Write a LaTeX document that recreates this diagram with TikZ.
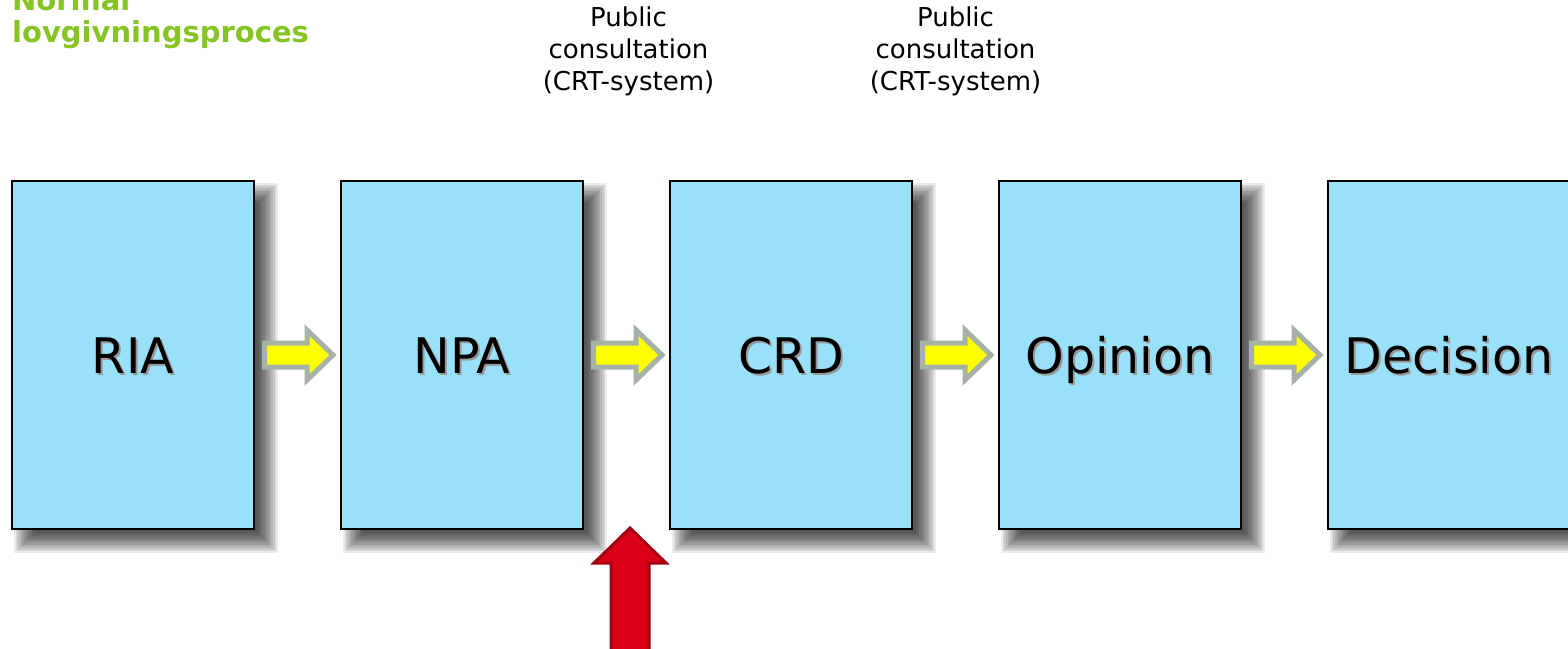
\documentclass[tikz,border=0pt]{standalone}
\usepackage{fontspec}
\setmainfont{DejaVu Sans}
\usetikzlibrary{calc}

\definecolor{boxblue}{RGB}{153,225,248}
\definecolor{titlegreen}{RGB}{134,196,36}
\definecolor{arrowgray}{RGB}{166,178,166}
\definecolor{arrowyellow}{RGB}{255,255,0}
\definecolor{redfill}{RGB}{218,0,24}
\definecolor{rededge}{RGB}{165,0,18}

\tikzset{
  stagebox/.style={draw=black, line width=2pt, fill=boxblue,
    minimum width=242pt, minimum height=348pt, inner sep=0pt},
  stagelabel/.style={font=\fontsize{49}{52}\selectfont, anchor=base, text=black},
  stageshade/.style={font=\fontsize{49}{52}\selectfont, anchor=base, text=black!40},
  consult/.style={font=\fontsize{26}{32}\selectfont, align=center, anchor=north, inner sep=0pt},
  yellowarrow/.style={draw=arrowgray, fill=arrowyellow, line width=5pt, line join=miter},
  redarrow/.style={draw=rededge, fill=redfill, line width=3pt, line join=miter},
}

% soft drop shadow behind a box: stacked translucent rectangles
\newcommand{\softshadow}[1]{%
  \foreach \k in {0,...,12}{%
    \pgfmathsetmacro{\g}{10-\k*20/12}
    \fill[black, opacity=0.08]
      ($(#1.north west)+(13pt+\g pt,-13pt-\g pt)$) rectangle
      ($(#1.south east)+(13pt-\g pt,-13pt+\g pt)$);
  }%
}

% block arrow from the right side of one box to the left side of the next
\newcommand{\blockarrow}[2]{%
  \path let \p1=($(#1.east)+(9.5pt,0)$), \p2=($(#2.west)+(-7pt,0)$) in
    [yellowarrow] (\x1,\y1+12pt) -- (\x2-26pt,\y1+12pt) -- (\x2-26pt,\y1+25pt)
    -- (\x2,\y1) -- (\x2-26pt,\y1-25pt) -- (\x2-26pt,\y1-12pt)
    -- (\x1,\y1-12pt) -- cycle;
}

\begin{document}
\begin{tikzpicture}[x=1pt, y=-1pt]
  \useasboundingbox (0,0) rectangle (1568,648);

  % stage boxes
  \path (133,355) node[stagebox, draw=none, fill=none] (ria) {}
        (462,355) node[stagebox, draw=none, fill=none] (npa) {}
        (791,355) node[stagebox, draw=none, fill=none] (crd) {}
        (1120,355) node[stagebox, draw=none, fill=none] (opinion) {}
        (1449,355) node[stagebox, draw=none, fill=none] (decision) {};

  \softshadow{ria}
  \softshadow{npa}
  \softshadow{crd}
  \softshadow{opinion}
  \softshadow{decision}

  \foreach \b/\t in {ria/RIA, npa/NPA, crd/CRD, opinion/Opinion, decision/Decision}{
    \node[stagebox] at (\b) {};
    \node[stageshade] at ($(\b)+(2pt,-20pt)$) {\t};
    \node[stagelabel] at ($(\b)+(0,-18pt)$) {\t};
  }

  % flow arrows between stages
  \blockarrow{ria}{npa}
  \blockarrow{npa}{crd}
  \blockarrow{crd}{opinion}
  \blockarrow{opinion}{decision}

  % consultation notes above the gaps
  \node[consult] (pc1) at ($(npa.north east)!0.5!(crd.north west)+(2pt,173pt)$)
    {Public\\consultation\\(CRT-system)};
  \node[consult] (pc2) at ($(crd.north east)!0.5!(opinion.north west)+(0,173pt)$)
    {Public\\consultation\\(CRT-system)};

  % heading
  \node[font=\bfseries\fontsize{29}{32}\selectfont, text=titlegreen,
        align=left, anchor=base west, inner sep=0pt] (title) at (12,42)
    {Normal\\lovgivningsproces};

  % red arrow pointing up into the NPA/CRD gap
  \coordinate (redtip) at (630,528);
  \path[redarrow] (redtip) -- ++(36,35) -- ++(-17,0) -- ++(0,90)
    -- ++(-38,0) -- ++(0,-90) -- ++(-17,0) -- cycle;
\end{tikzpicture}
\end{document}
